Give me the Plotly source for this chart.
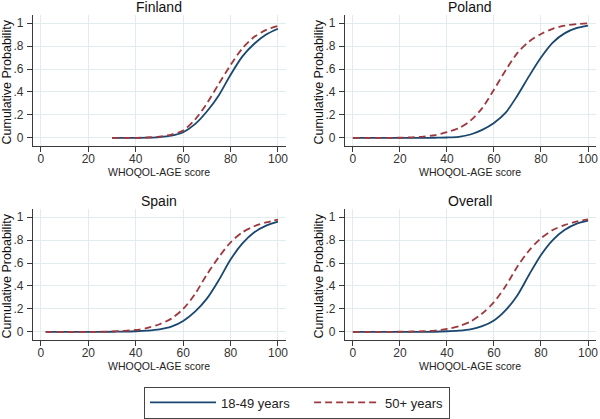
import plotly.graph_objects as go

panels = ["Finland", "Poland", "Spain", "Overall"]
series_names = ["18-49 years", "50+ years"]

finland_x = [30, 35, 40, 45, 50, 55, 60, 65, 70, 75, 80, 85, 90, 95, 100]
finland_young = [0, 0.0005, 0.001, 0.003, 0.008, 0.02, 0.05, 0.12, 0.23, 0.37, 0.55, 0.71, 0.82, 0.90, 0.95]
finland_old = [0, 0.0005, 0.001, 0.004, 0.012, 0.03, 0.065, 0.16, 0.30, 0.47, 0.635, 0.78, 0.88, 0.94, 0.975]

poland_x = [0, 5, 10, 15, 20, 25, 30, 35, 40, 45, 50, 55, 60, 65, 70, 75, 80, 85, 90, 95, 100]
poland_young = [0, 0, 0, 0, 0.0005, 0.001, 0.001, 0.002, 0.004, 0.01, 0.03, 0.07, 0.13, 0.22, 0.37, 0.54, 0.70, 0.83, 0.91, 0.955, 0.977]
poland_old = [0, 0, 0.0005, 0.001, 0.002, 0.005, 0.012, 0.025, 0.05, 0.085, 0.15, 0.26, 0.42, 0.59, 0.74, 0.84, 0.905, 0.95, 0.977, 0.99, 0.998]

spain_x = [2, 5, 10, 15, 20, 25, 30, 35, 40, 45, 50, 55, 60, 65, 70, 75, 80, 85, 90, 95, 100]
spain_young = [0, 0, 0, 0, 0.0005, 0.001, 0.002, 0.003, 0.006, 0.012, 0.023, 0.046, 0.096, 0.177, 0.29, 0.45, 0.63, 0.77, 0.867, 0.925, 0.96]
spain_old = [0, 0, 0, 0.0005, 0.001, 0.002, 0.005, 0.01, 0.017, 0.035, 0.067, 0.116, 0.2, 0.33, 0.50, 0.65, 0.78, 0.867, 0.92, 0.953, 0.977]

overall_x = [0, 5, 10, 15, 20, 25, 30, 35, 40, 45, 50, 55, 60, 65, 70, 75, 80, 85, 90, 95, 100]
overall_young = [0, 0, 0, 0, 0.0005, 0.001, 0.001, 0.002, 0.006, 0.012, 0.023, 0.05, 0.10, 0.19, 0.32, 0.50, 0.67, 0.80, 0.887, 0.94, 0.968]
overall_old = [0, 0, 0.0005, 0.001, 0.002, 0.004, 0.007, 0.012, 0.026, 0.05, 0.09, 0.16, 0.26, 0.40, 0.57, 0.71, 0.815, 0.887, 0.93, 0.96, 0.98]

x_ticks = [0, 20, 40, 60, 80, 100]
y_ticks = [0, 0.2, 0.4, 0.6, 0.8, 1]
y_tick_labels = ["0", ".2", ".4", ".6", ".8", "1"]

data = [
    (finland_x, finland_young, finland_old),
    (poland_x, poland_young, poland_old),
    (spain_x, spain_young, spain_old),
    (overall_x, overall_young, overall_old),
]

W, H = 600, 419
# pixel boxes of the four plot regions: (left, right, top, bottom)
boxes = [(33, 287, 15, 146), (346, 598, 15, 146), (33, 287, 209, 340), (346, 598, 209, 340)]

NAVY = "#1a476f"
MAROON = "#9e383e"
GRID = "#e1ecee"
AXIS = "#3a3a3a"
FONT = "Liberation Sans, Arial, sans-serif"
NBSP = "\u00a0"

fig = go.Figure()
layout = dict(
    width=W, height=H, margin=dict(l=0, r=0, t=0, b=0),
    paper_bgcolor="white", plot_bgcolor="white",
    font=dict(family=FONT, color="#222222"),
    showlegend=True,
    legend=dict(orientation="h", x=298 / W, xanchor="center", y=(H - 402.5) / H, yanchor="middle",
                bordercolor="#444444", borderwidth=1, font=dict(size=13, color="#222222"),
                itemwidth=66, tracegroupgap=0),
)
annotations = []

for i, (name, (xs, young, old), (l, r, t, b)) in enumerate(zip(panels, data, boxes)):
    sfx = "" if i == 0 else str(i + 1)
    xa, ya = "x" + sfx, "y" + sfx
    fig.add_trace(go.Scatter(x=xs, y=young, mode="lines", xaxis=xa, yaxis=ya,
                             line=dict(color=NAVY, width=1.8, shape="spline", smoothing=0.8),
                             name=series_names[0] + NBSP * 4, showlegend=(i == 0)))
    fig.add_trace(go.Scatter(x=xs, y=old, mode="lines", xaxis=xa, yaxis=ya,
                             line=dict(color=MAROON, width=1.8, dash="7px,4px", shape="spline", smoothing=0.8),
                             name=series_names[1], showlegend=(i == 0)))
    common = dict(showgrid=True, gridcolor=GRID, gridwidth=1, zeroline=False,
                  showline=True, linecolor=AXIS, linewidth=1,
                  ticks="outside", ticklen=5, tickcolor=AXIS, tickwidth=1,
                  tickfont=dict(size=12, color="#333333", family=FONT))
    layout["xaxis" + sfx] = dict(common, domain=[l / W, r / W], range=[-3.4, 103.4],
                                  tickvals=x_ticks, anchor=ya, ticklabelstandoff=-3)
    layout["yaxis" + sfx] = dict(common, domain=[(H - b) / H, (H - t) / H], range=[-0.07, 1.07],
                                  tickvals=y_ticks, ticktext=y_tick_labels, anchor=xa, ticklabelstandoff=1)
    cx = (l + r) / 2
    annotations.append(dict(text=name, x=cx / W, y=1 - (t - 8) / H, xref="paper", yref="paper",
                            xanchor="center", yanchor="middle", showarrow=False,
                            font=dict(size=14, color="#111111", family=FONT)))
    annotations.append(dict(text="WHOQOL-AGE score", x=cx / W, y=1 - (b + 26) / H, xref="paper", yref="paper",
                            xanchor="center", yanchor="middle", showarrow=False,
                            font=dict(size=10.5, color="#222222", family=FONT)))
    annotations.append(dict(text="Cumulative Probability", x=(l - 26) / W, y=1 - ((t + b) / 2 + 1) / H,
                            xref="paper", yref="paper", xanchor="center", yanchor="middle",
                            showarrow=False, textangle=-90,
                            font=dict(size=12.5, color="#111111", family=FONT)))

layout["annotations"] = annotations
fig.update_layout(**layout)
fig.write_html("out.html", config={"displayModeBar": False},
               post_script="document.body.style.margin='0';document.body.style.padding='0';")
